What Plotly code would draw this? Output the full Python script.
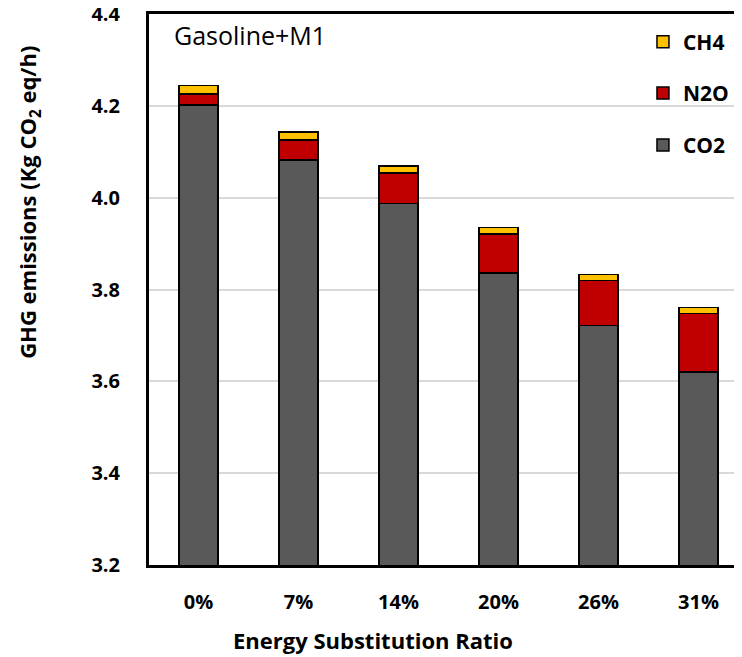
import plotly.graph_objects as go

categories = ["0%", "7%", "14%", "20%", "26%", "31%"]
co2 = [4.202, 4.082, 3.987, 3.836, 3.722, 3.620]
n2o = [0.024, 0.044, 0.067, 0.085, 0.098, 0.128]
ch4 = [0.018, 0.017, 0.015, 0.014, 0.013, 0.013]
y_ticks = [3.2, 3.4, 3.6, 3.8, 4.0, 4.2, 4.4]

FONT = "Open Sans"
fig = go.Figure()
series = [("CO2", co2, "#595959", "legend3"),
          ("N2O", n2o, "#C00000", "legend2"),
          ("CH4", ch4, "#FFC000", "legend")]
for name, vals, col, leg in series:
    fig.add_trace(go.Bar(x=categories, y=vals, name=name, legend=leg,
                         marker=dict(color=col, line=dict(color="black", width=1.5)),
                         width=0.39))

legfont = dict(size=21, family=FONT, color="black", weight="bold")
def leg(y):
    return dict(x=0.833, y=y, xanchor="left", yanchor="top", font=legfont,
                bgcolor="rgba(0,0,0,0)")

fig.update_layout(
    barmode="stack",
    width=742, height=657,
    margin=dict(l=141, r=8, t=6, b=100),
    paper_bgcolor="white", plot_bgcolor="white",
    font=dict(family=FONT, color="black"),
    showlegend=True,
    legend=leg(0.986), legend2=leg(0.893), legend3=leg(0.799),
    xaxis=dict(range=[-0.495, 5.435], showline=True, linecolor="black", linewidth=3,
               mirror=True, automargin=False,
               ticks="", tickfont=dict(size=20, family=FONT, weight="bold"),
               ticklabelstandoff=17),
    yaxis=dict(range=[3.2, 4.4], tickvals=y_ticks, tickformat=".1f",
               showline=True, linecolor="black", linewidth=3, automargin=False,
               showgrid=True, gridcolor="#d9d9d9", gridwidth=2,
               ticks="", tickfont=dict(size=20, family=FONT, weight="bold"),
               ticklabelstandoff=22, ticklabeloverflow="allow"),
    annotations=[
        dict(text="Gasoline+M1", x=0.039, y=0.962, xref="paper", yref="paper",
             xanchor="left", yanchor="middle", showarrow=False,
             font=dict(size=25, family=FONT, color="black")),
        dict(text="<b>Energy Substitution Ratio</b>", x=0.378, y=-0.136,
             xref="paper", yref="paper", xanchor="center", yanchor="middle",
             showarrow=False, font=dict(size=22, family=FONT, color="black")),
        dict(text="<b>GHG emissions (Kg CO<sub>2</sub> eq/h)</b>", x=-0.2024, y=0.659,
             xref="paper", yref="paper", xanchor="center", yanchor="middle",
             textangle=-90, showarrow=False,
             font=dict(size=22, family=FONT, color="black")),
    ],
)

fig.write_html("out.html")
